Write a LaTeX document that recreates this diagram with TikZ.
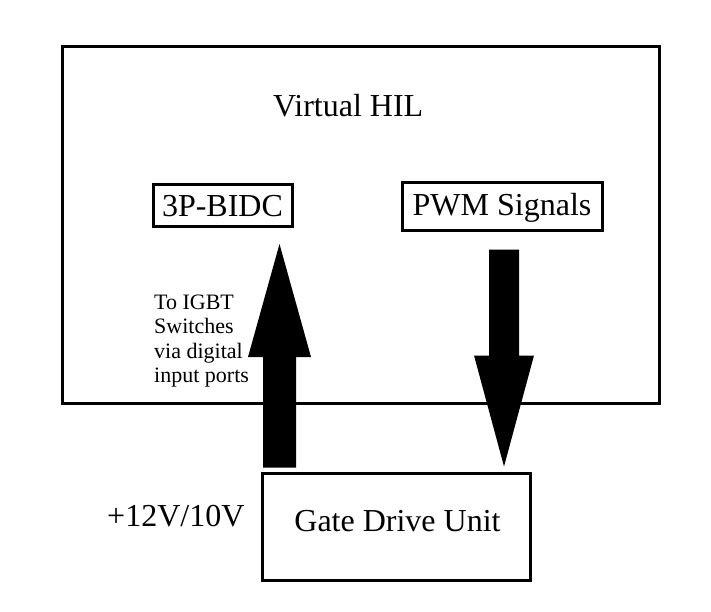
\documentclass[tikz,border=0pt]{standalone}
\usepackage{fontspec}
\setmainfont{Liberation Serif}
\usetikzlibrary{calc}
\tikzset{
  frame/.style={draw, line width=3pt, inner sep=0pt, anchor=center},
  bigtxt/.style={font=\fontsize{32}{38}\selectfont, inner sep=0pt},
  smalltxt/.style={font=\fontsize{22}{24.5}\selectfont, inner sep=0pt, align=left},
  blockarrow/.style={fill=black, draw=none}
}
\begin{document}
\begin{tikzpicture}[x=1pt,y=-1pt]
\useasboundingbox (0,0) rectangle (711,612);
% boxes
\node[frame, minimum width=597pt, minimum height=356pt] (hil) at (360.5,225) {};
\node[bigtxt, anchor=base west] (hilt) at (273,117) {Virtual HIL};
\node[frame, bigtxt, minimum width=139pt, minimum height=42pt, text depth=0pt] (bidc) at (222.5,205.5) {3P-BIDC};
\node[frame, bigtxt, minimum width=200pt, minimum height=47pt, text height=24pt, text depth=7pt] (pwm) at (502,206.5) {PWM Signals};
\node[frame, minimum width=268pt, minimum height=107pt] (gdu) at (396,526.5) {};
\node[bigtxt, anchor=base] (gdut) at (397.5,531) {Gate Drive Unit};
\node[bigtxt, anchor=base west] (volt) at (107,526) {+12V/10V};
\node[smalltxt, anchor=base west] (igbt) at (154,382.5) {To IGBT\\Switches\\via digital\\input ports};
% connector end points
\coordinate (upS) at (gdu.north -| 279.5,0);
\coordinate (upE) at ($(bidc.south -| upS)+(0,16)$);
\coordinate (dnS) at ($(pwm.south -| 504,0)+(0,18)$);
\coordinate (dnE) at ($(gdu.north -| dnS)+(0,-5)$);
% up block arrow
\fill[blockarrow] ($(upS)+(-16.5,-4)$) -- ($(upE)+(-16.5,113)$) -- ($(upE)+(-31.5,113)$) -- (upE)
  -- ($(upE)+(31.5,113)$) -- ($(upE)+(16.5,113)$) -- ($(upS)+(16.5,-4)$) -- cycle;
% down block arrow
\fill[blockarrow] (dnE) -- ($(dnE)+(-30,-111)$) -- ($(dnE)+(-15,-111)$) -- ($(dnS)+(-15,0)$)
  -- ($(dnS)+(15,0)$) -- ($(dnE)+(15,-111)$) -- ($(dnE)+(30,-111)$) -- cycle;
\end{tikzpicture}
\end{document}
